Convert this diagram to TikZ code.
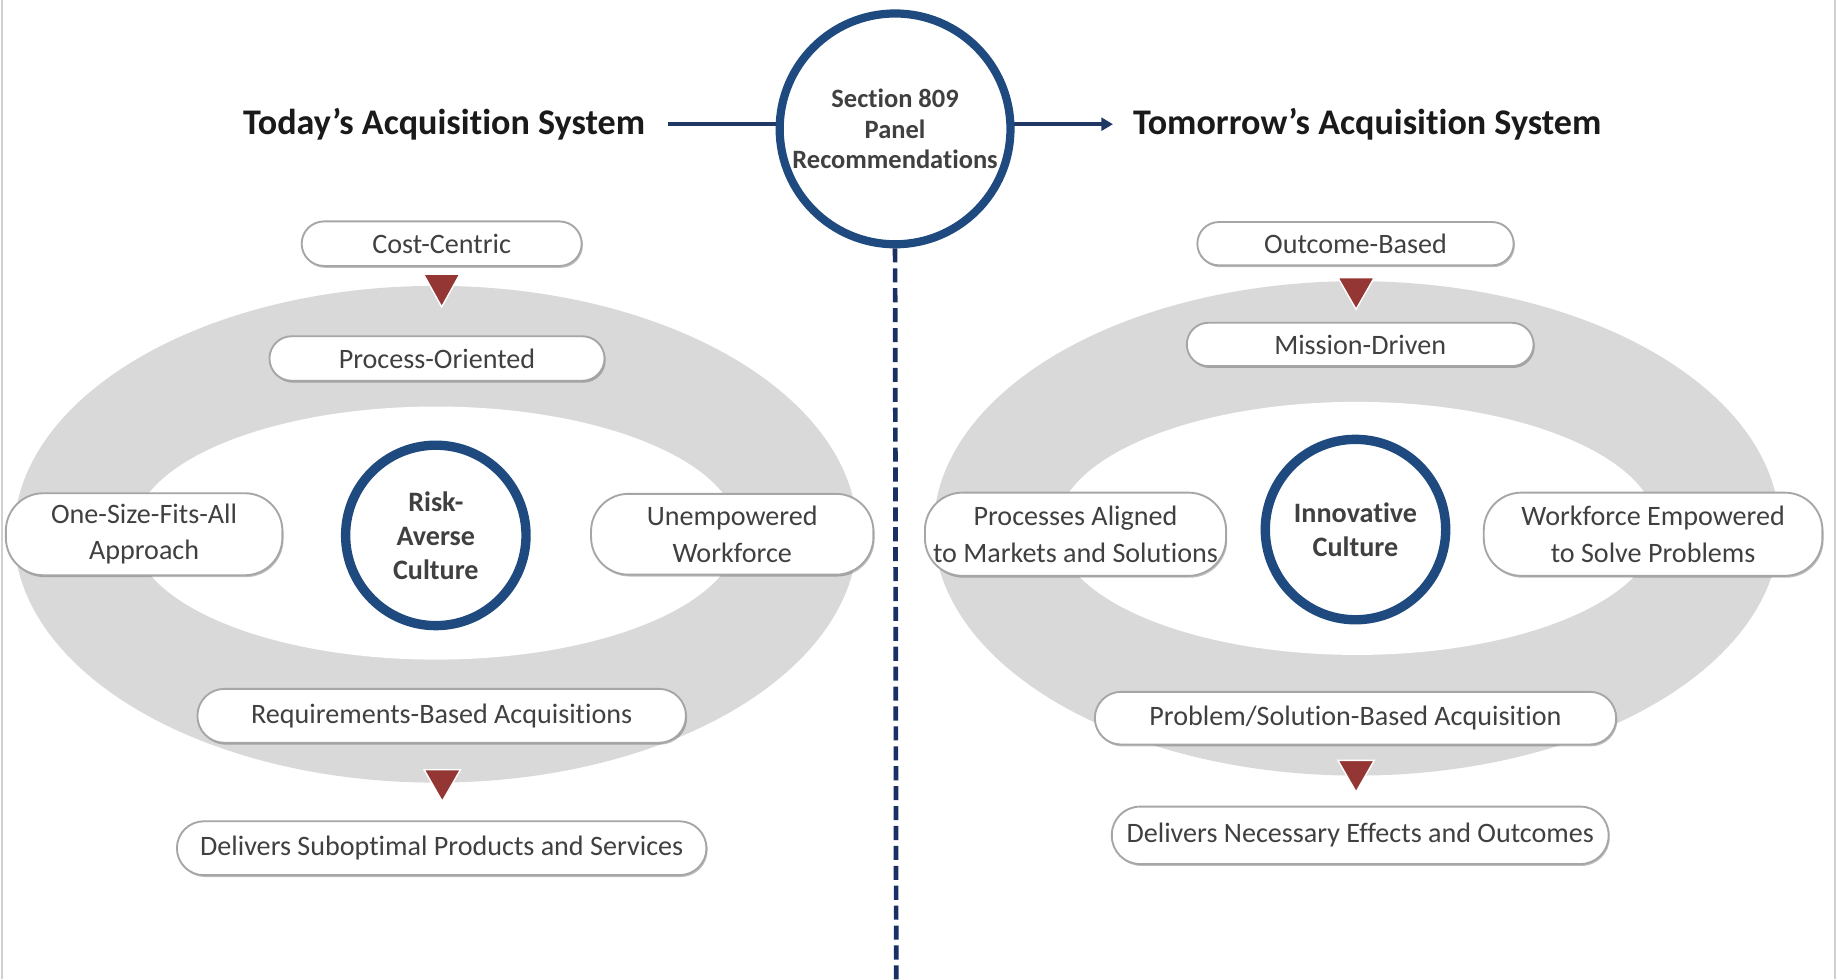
\documentclass[tikz,border=0pt]{standalone}
\usepackage{fontspec}
\setmainfont{Carlito}[Ligatures=NoCommon]
\usetikzlibrary{arrows.meta,shadows}
\definecolor{ringblue}{HTML}{1F4A80}
\definecolor{dashblue}{HTML}{1A2F63}
\definecolor{arrowblue}{HTML}{1F3864}
\definecolor{trired}{HTML}{943634}
\definecolor{ellgray}{HTML}{D9D9D9}
\definecolor{boxgray}{HTML}{A6A6A6}
\definecolor{txtgray}{HTML}{404040}
\definecolor{titleblack}{HTML}{1A1A1A}
\definecolor{edgegray}{HTML}{D0D0D0}
\begin{document}
\begin{tikzpicture}[x=0.5pt,y=-0.5pt,
  pill/.style={draw=boxgray, line width=0.8pt, fill=white, inner sep=0pt, text=txtgray,
    font=\fontsize{12pt}{15.5pt}\selectfont, align=center,
    drop shadow={shadow xshift=0.5pt, shadow yshift=-0.8pt, opacity=0.25, fill=black}},
  ring/.style={circle, draw=ringblue, line width=4pt, fill=white, inner sep=0pt, text=txtgray,
    font=\bfseries\fontsize{12pt}{14.5pt}\selectfont, align=center},
  ttl/.style={font=\bfseries\fontsize{15.4pt}{18pt}\selectfont, text=titleblack, inner sep=0pt},
  tri/.style={fill=trired, draw=white, line width=0.6pt},
  link/.style={draw=arrowblue, line width=1.5pt}
]
\useasboundingbox (0,0) rectangle (1568,836);
\fill[white] (0,0) rectangle (1568,836);
\draw[edgegray, line width=1pt] (1.5,0) -- (1.5,836);
\draw[edgegray, line width=1pt] (1566,0) -- (1566,836);

% ellipses
\fill[ellgray] (372,456) ellipse [x radius=180pt, y radius=106pt];
\fill[white] (372,455) ellipse [x radius=129pt, y radius=54pt];
\fill[ellgray] (1158,451) ellipse [x radius=180.5pt, y radius=105.5pt];
\fill[white] (1158,451) ellipse [x radius=128pt, y radius=54pt];

% titles and center circle
\node[ttl] (tl) at (379,106) {Today’s Acquisition System};
\node[ttl] (tr) at (1167,106) {Tomorrow’s Acquisition System};
\coordinate (ls) at (570,106);
\coordinate (re) at (950,106);
\coordinate (de) at (765,836);
\draw[link] (ls) -- (664,106);
\draw[link, -{Triangle[length=5pt,width=5.5pt]}] (864,106) -- (re);
\node[ring, line width=3.5pt, minimum size=98.5pt, font=\bfseries\fontsize{11.3pt}{13pt}\selectfont] (sec) at (764,110)
  {Section 809\\Panel\\Recommendations};
\draw[dashblue, line width=2pt, dash pattern=on 6pt off 2.5pt] (sec.south) -- (de);

% left side
\node[pill, minimum width=119.5pt, minimum height=19pt, rounded corners=9.5pt] (cost) at (377,208) {Cost-Centric};
\node[pill, minimum width=143pt, minimum height=19pt, rounded corners=9.5pt] (proc) at (373,306) {Process-Oriented};
\node[pill, minimum width=118pt, minimum height=35pt, rounded corners=16pt] (one) at (123,456) {One-Size-Fits-All\\Approach};
\node[pill, minimum width=120.5pt, minimum height=34.5pt, rounded corners=16pt] (unemp) at (625,456) {Unempowered\\Workforce};
\node[ring, minimum size=77pt] (risk) at (372,457) {Risk-\\Averse\\Culture};
\node[pill, minimum width=208.5pt, minimum height=23pt, rounded corners=11.5pt] (req) at (377,611) {Requirements-Based Acquisitions};
\node[pill, minimum width=226pt, minimum height=23pt, rounded corners=11.5pt] (dsub) at (377,724) {Delivers Suboptimal Products and Services};
\fill[tri] (361.5,234) -- (392.5,234) -- (377,262) -- cycle;
\fill[tri] (362,657) -- (393,657) -- (377.5,684) -- cycle;

% right side
\node[pill, minimum width=135pt, minimum height=18.5pt, rounded corners=9.25pt] (outc) at (1157,208) {Outcome-Based};
\node[pill, minimum width=148pt, minimum height=18.5pt, rounded corners=9.25pt] (miss) at (1161,294) {Mission-Driven};
\node[pill, minimum width=128.5pt, minimum height=35.5pt, rounded corners=16pt] (palign) at (918,456) {Processes Aligned\\to Markets and Solutions};
\node[pill, minimum width=144.5pt, minimum height=35.5pt, rounded corners=16pt] (wemp) at (1411,456) {Workforce Empowered\\to Solve Problems};
\node[ring, minimum size=77pt] (innov) at (1157,452) {Innovative\\Culture};
\node[pill, minimum width=222.5pt, minimum height=22.5pt, rounded corners=11.25pt] (prob) at (1157,613) {Problem/Solution-Based Acquisition};
\node[pill, minimum width=212pt, minimum height=24.5pt, rounded corners=12pt] (dnec) at (1161,713) {Delivers Necessary Effects and Outcomes};
\fill[tri] (1142,237) -- (1173,237) -- (1157.5,264) -- cycle;
\fill[tri] (1142,649) -- (1173,649) -- (1157.5,676) -- cycle;
\end{tikzpicture}
\end{document}
